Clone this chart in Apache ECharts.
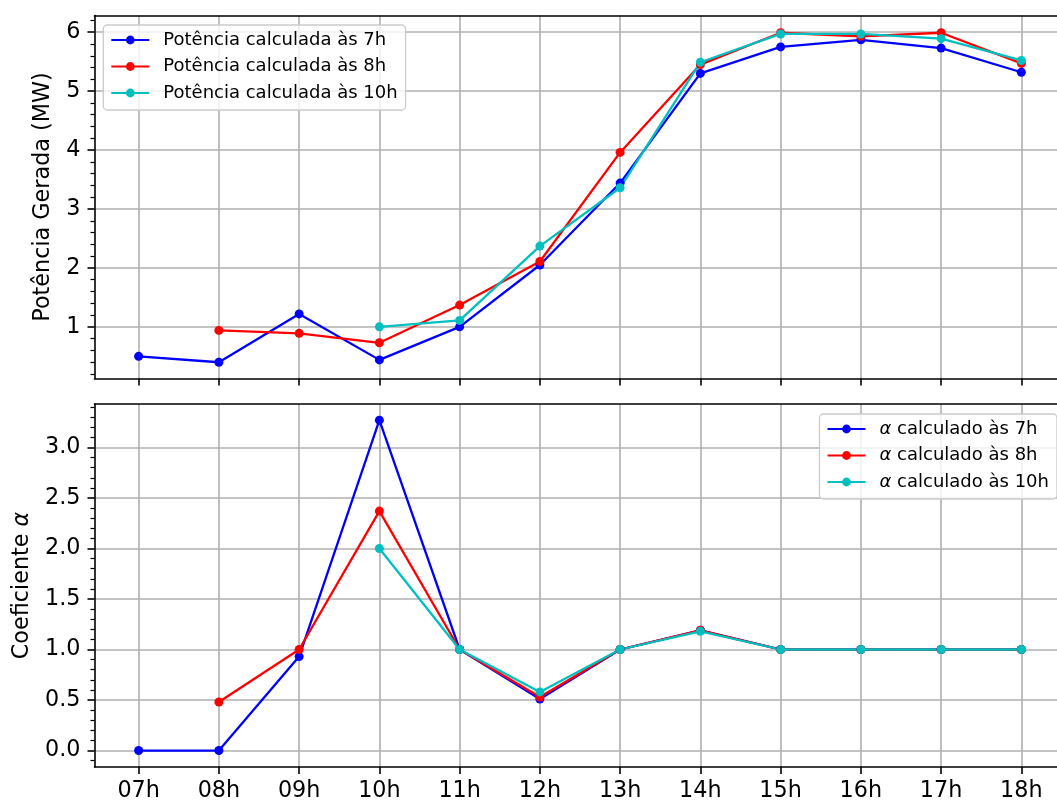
<!DOCTYPE html>
<html>
<head>
<meta charset="utf-8">
<script src="https://cdn.jsdelivr.net/npm/echarts@6/dist/echarts.min.js"></script>
<style>
  html, body { margin: 0; padding: 0; background: #ffffff; }
  #chart { width: 1057px; height: 803px; }
</style>
</head>
<body>
<div id="chart"></div>
<script>
// Hours of the day (x categories)
const categories = ['07h', '08h', '09h', '10h', '11h', '12h', '13h', '14h', '15h', '16h', '17h', '18h'];

// Generated power (MW) as forecast at 7h, 8h and 10h
const potencia7h  = [0.50, 0.40, 1.22, 0.44, 1.00, 2.05, 3.44, 5.30, 5.75, 5.87, 5.73, 5.32];
const potencia8h  = [null, 0.94, 0.89, 0.73, 1.37, 2.11, 3.96, 5.45, 5.99, 5.93, 5.99, 5.47];
const potencia10h = [null, null, null, 1.00, 1.11, 2.37, 3.36, 5.49, 5.97, 5.97, 5.89, 5.52];

// Coefficient alpha as computed at 7h, 8h and 10h
const alfa7h  = [0.00, 0.00, 0.93, 3.27, 1.00, 0.51, 1.00, 1.19, 1.00, 1.00, 1.00, 1.00];
const alfa8h  = [null, 0.48, 1.00, 2.37, 1.00, 0.53, 1.00, 1.19, 1.00, 1.00, 1.00, 1.00];
const alfa10h = [null, null, null, 2.00, 1.00, 0.58, 1.00, 1.18, 1.00, 1.00, 1.00, 1.00];

// Tick labels
const potenciaTicks = [1, 2, 3, 4, 5, 6];
const alfaTicks = [0.0, 0.5, 1.0, 1.5, 2.0, 2.5, 3.0];

const FONT = 'DejaVu Sans';
const TICK_FS = 22.3;
const LEGEND_FS = 18;
const SPINE_W = 1.6;
const GRID_COLOR = '#b0b0b0';

const xTicks = categories.map((_, i) => i);

// Minor tick positions between the labelled ticks
function minorTicks(lo, hi, step, majorStep) {
  const out = [];
  const n = Math.round((hi - lo) / step);
  for (let k = 0; k <= n; k++) {
    const v = Math.round((lo + k * step) * 1000) / 1000;
    const r = v / majorStep;
    if (Math.abs(r - Math.round(r)) > 1e-6) out.push(v);
  }
  return out;
}
const potenciaMinor = minorTicks(0.2, 6.2, 0.2, 1);
const alfaMinor = minorTicks(-0.1, 3.4, 0.1, 0.5);

function toPairs(arr) {
  const out = [];
  arr.forEach((v, i) => { if (v !== null) out.push([i, v]); });
  return out;
}

const names = {
  p7: 'Potência calculada às 7h', p8: 'Potência calculada às 8h', p10: 'Potência calculada às 10h',
  a7: 'α calculado às 7h', a8: 'α calculado às 8h', a10: 'α calculado às 10h'
};

const BLUE = '#0000ff', RED = '#ff0000', CYAN = '#00bfbf';

function lineSeries(name, data, color, g) {
  return {
    name: name,
    type: 'line',
    xAxisIndex: g,
    yAxisIndex: g * 2,
    data: toPairs(data),
    symbol: 'circle',
    symbolSize: 9,
    showSymbol: true,
    lineStyle: { color: color, width: 2.3 },
    itemStyle: { color: color },
    emphasis: { disabled: true }
  };
}

// The plotting area runs past the right edge of the canvas
const X_MIN = -0.55, X_MAX = 11.444;

function xAxisFor(g) {
  return {
    type: 'value',
    gridIndex: g,
    position: 'bottom',
    min: X_MIN,
    max: X_MAX,
    axisLine: { show: true, onZero: false, lineStyle: { color: '#000', width: SPINE_W } },
    axisTick: { show: true, length: 7, customValues: xTicks, lineStyle: { color: '#000', width: SPINE_W } },
    axisLabel: {
      show: g === 1, customValues: xTicks, margin: 13,
      formatter: v => categories[Math.round(v)] || '',
      fontFamily: FONT, fontSize: TICK_FS, color: '#000'
    },
    splitLine: { show: true, lineStyle: { color: GRID_COLOR, width: SPINE_W } }
  };
}

// Top frame line of each panel
function xAxisTop(g) {
  return {
    type: 'value',
    gridIndex: g,
    position: 'top',
    min: X_MIN,
    max: X_MAX,
    axisLine: { show: true, onZero: false, lineStyle: { color: '#000', width: SPINE_W } },
    axisTick: { show: false },
    axisLabel: { show: false },
    splitLine: { show: false }
  };
}

function yAxisMain(g, min, max, ticks, fmt, name, nameGap, rich) {
  return {
    type: 'value',
    gridIndex: g,
    position: 'left',
    min: min,
    max: max,
    name: name,
    nameLocation: 'middle',
    nameGap: nameGap,
    nameRotate: 90,
    nameTextStyle: { fontFamily: FONT, fontSize: TICK_FS, color: '#000', rich: rich },
    axisLine: { show: true, onZero: false, lineStyle: { color: '#000', width: SPINE_W } },
    axisTick: { show: true, length: 7, customValues: ticks, lineStyle: { color: '#000', width: SPINE_W } },
    axisLabel: {
      customValues: ticks, margin: 14, formatter: fmt,
      fontFamily: FONT, fontSize: TICK_FS, color: '#000'
    },
    splitLine: { show: true, lineStyle: { color: GRID_COLOR, width: SPINE_W } }
  };
}

function yAxisMinor(g, min, max, ticks) {
  return {
    type: 'value',
    gridIndex: g,
    position: 'left',
    min: min,
    max: max,
    axisLine: { show: false, onZero: false },
    axisTick: { show: true, length: 4, customValues: ticks, lineStyle: { color: '#000', width: 1.2 } },
    axisLabel: { show: false },
    splitLine: { show: false }
  };
}

const legendBase = {
  orient: 'vertical',
  itemWidth: 38,
  itemHeight: 11,
  itemGap: 4.5,
  padding: [4, 8, 6, 7],
  borderColor: '#cccccc',
  borderWidth: 1.3,
  borderRadius: 4,
  backgroundColor: 'rgba(255,255,255,0.8)',
  selectedMode: false
};

const alphaRich = { a: { fontFamily: FONT, fontStyle: 'italic', fontSize: LEGEND_FS, color: '#000' } };
const alphaNameRich = { a: { fontFamily: FONT, fontStyle: 'italic', fontSize: TICK_FS, color: '#000' } };

const option = {
  animation: false,
  backgroundColor: '#ffffff',
  grid: [
    { left: 94.5, right: 0, top: 15.5, height: 363 },
    { left: 94.5, right: 0, top: 404, height: 363 }
  ],
  xAxis: [xAxisFor(0), xAxisFor(1), xAxisTop(0), xAxisTop(1)],
  yAxis: [
    yAxisMain(0, 0.124, 6.283, potenciaTicks, v => String(Math.round(v)), 'Potência Gerada (MW)', 40, {}),
    yAxisMinor(0, 0.124, 6.283, potenciaMinor),
    yAxisMain(1, -0.163, 3.43, alfaTicks, v => v.toFixed(1), 'Coeficiente {a|α}', 61, alphaNameRich),
    yAxisMinor(1, -0.163, 3.43, alfaMinor)
  ],
  legend: [
    Object.assign({}, legendBase, {
      data: [names.p7, names.p8, names.p10],
      left: 103.3,
      top: 25,
      textStyle: { fontFamily: FONT, fontSize: LEGEND_FS, color: '#000', lineHeight: 22, padding: [0, 0, 0, 9] }
    }),
    Object.assign({}, legendBase, {
      data: [names.a7, names.a8, names.a10],
      left: 819.5,
      top: 414,
      formatter: n => n.replace('α', '{a|α}'),
      textStyle: { fontFamily: FONT, fontSize: LEGEND_FS, color: '#000', lineHeight: 22, padding: [0, 0, 0, 9], rich: alphaRich }
    })
  ],
  series: [
    lineSeries(names.p7, potencia7h, BLUE, 0),
    lineSeries(names.p8, potencia8h, RED, 0),
    lineSeries(names.p10, potencia10h, CYAN, 0),
    lineSeries(names.a7, alfa7h, BLUE, 1),
    lineSeries(names.a8, alfa8h, RED, 1),
    lineSeries(names.a10, alfa10h, CYAN, 1)
  ]
};

const chart = echarts.init(document.getElementById('chart'), null, { renderer: 'canvas' });
chart.setOption(option);
</script>
</body>
</html>
